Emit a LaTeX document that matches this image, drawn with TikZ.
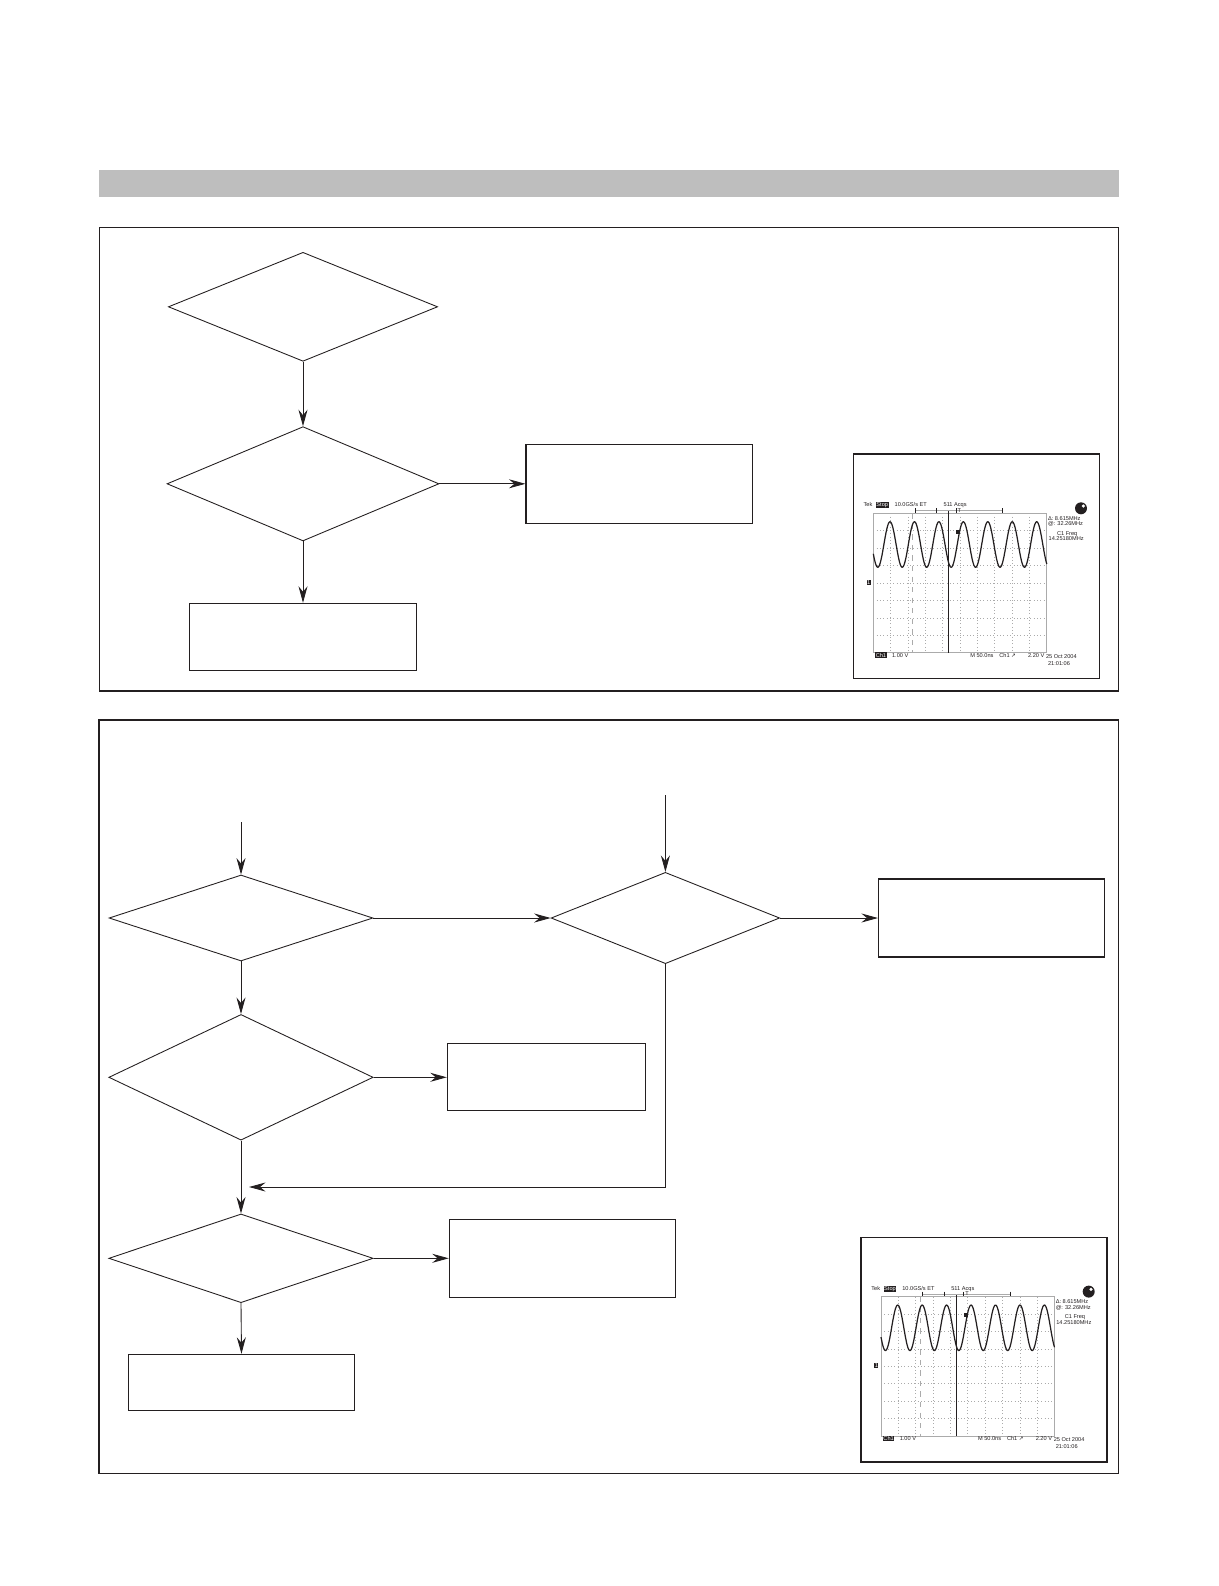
\documentclass[tikz,border=0pt]{standalone}
\usepackage{fontspec}
\newfontfamily\scopefont{Liberation Sans}
\newfontfamily\scopesym{DejaVu Sans}
\usetikzlibrary{shapes.geometric,arrows.meta}
\definecolor{fcink}{HTML}{231F20}
\definecolor{fcbar}{HTML}{BEBEBE}
\definecolor{fcgrid}{HTML}{ABABAB}

\tikzset{
  panel/.style={draw=fcink, line width=0.65pt},
  test/.style={diamond, draw=fcink, line width=0.5pt, inner sep=0pt},
  result/.style={rectangle, draw=fcink, line width=0.6pt, minimum width=4.53cm, inner sep=0pt},
  flow/.style={draw=fcink, line width=0.5pt, -{Stealth[length=3.3mm,width=1.8mm,inset=1.1mm]}},
  scopetext/.style={inner sep=0pt, anchor=base west, text=fcink,
    font=\scopefont\fontsize{3.2}{3.6}\selectfont},
  inverse/.style={scopetext, fill=fcink, text=white, inner sep=0.25pt},
}

% one oscilloscope screen, top left corner at (#1,#2), node names start with #3
\newcommand{\scopeshot}[3]{%
  \begin{scope}[shift={(#1,#2)}]
    \draw[fcink, line width=0.65pt] (0,0) rectangle (246,224.7);
    % graticule
    \foreach \i in {1,...,9}
      \draw[fcgrid, line width=0.3pt, dash pattern=on 0.3pt off 1.6pt] ({20+17.35*\i},59.3) -- ++(0,139.4);
    \foreach \j in {1,...,7}
      \draw[fcgrid, line width=0.3pt, dash pattern=on 0.3pt off 1.6pt] (20,{59.3+17.42*\j}) -- ++(173.5,0);
    \draw[fcgrid, line width=0.4pt] (20,59.3) rectangle (193.5,198.7);
    % cursors and trigger bar
    \draw[fcgrid, line width=0.4pt, dashed] (59,59.3) -- (59,198.7);
    \draw[fcink, line width=0.4pt] (95,56.7) -- (95,198.7);
    \draw[fcgrid, line width=0.5pt] (61.7,56.7) -- (149,56.7);
    \foreach \t in {61.7,83.4,102.7,149}
      \draw[fcink, line width=0.4pt] (\t,54.2) -- (\t,59);
    % trace
    \draw[fcink, line width=0.7pt, line join=round]
      plot[domain=20:193.5, samples=220] (\x,{90.5-22.8*cos(14.724*(\x-36.7))});
    \fill[fcink] (103,75.7) rectangle (107,79.7);
    \fill[fcink] (227.7,54.3) circle (0.12cm);
    \fill[white] (230,52) circle (0.035cm);
    % readouts
    \node[scopetext] (#3-tek) at (10,52.7) {Tek};
    \node[inverse] (#3-stop) at (22.4,52.7) {Stop};
    \node[scopetext] (#3-rate) at (41,52.7) {10.0GS/s ET};
    \node[scopetext] (#3-acq) at (90,52.7) {511 Acqs};
    \node[scopetext] (#3-trig) at (104,58.2) {T};
    \node[scopetext] (#3-delta) at (194.4,66) {Δ: 8.615MHz};
    \node[scopetext] (#3-abs) at (194.4,71.7) {@: 32.26MHz};
    \node[scopetext] (#3-meas) at (203.4,81) {C1 Freq};
    \node[scopetext] (#3-freq) at (195,86.7) {14.25180MHz};
    \node[inverse] (#3-gnd) at (13,130.3) {1};
    \node[inverse] (#3-ch) at (21.7,203) {Ch1};
    \node[scopetext] (#3-volt) at (38.4,203) {1.00 V};
    \node[scopetext] (#3-time) at (116.7,203) {M 50.0ns};
    \node[scopetext] (#3-src) at (145.7,203) {Ch1 {\scopesym ↗}};
    \node[scopetext] (#3-lvl) at (174.4,203) {2.20 V};
    \node[scopetext] (#3-date) at (192.4,204) {25 Oct 2004};
    \node[scopetext] (#3-clock) at (194.4,211) {21:01:06};
  \end{scope}}

\begin{document}
\begin{tikzpicture}[x=0.02cm, y=-0.02cm]
  \useasboundingbox (0,0) rectangle (1218,1586);

  % --- title bar
  \fill[fcbar] (99,170) rectangle (1119,197.3);

  % --- upper panel
  \draw[panel] (99.3,227.3) rectangle (1118.3,691);
  \node[test, minimum width=5.386cm, minimum height=2.18cm] (askA) at (303,306.8) {};
  \node[test, minimum width=5.44cm, minimum height=2.286cm] (askB) at (303,483.8) {};
  \node[result, minimum height=1.58cm] (fixA) at (639.2,483.8) {};
  \node[result, minimum height=1.34cm] (endA) at (303,636.8) {};
  \draw[flow] (askA.south) -- (askB.north);
  \draw[flow] (askB.east) -- (fixA.west);
  \draw[flow] (askB.south) -- (endA.north);
  \scopeshot{853.3}{454}{scA}

  % --- lower panel
  \draw[panel] (99,720) rectangle (1118.3,1473.3);
  \coordinate (inC) at (241,822);
  \coordinate (inD) at (665.4,795);
  \node[test, minimum width=5.278cm, minimum height=1.72cm] (askC) at (241,918) {};
  \node[test, minimum width=4.572cm, minimum height=1.826cm] (askD) at (665.4,918) {};
  \node[result, minimum height=1.56cm] (fixB) at (991.7,918) {};
  \node[test, minimum width=5.288cm, minimum height=2.514cm] (askE) at (241,1077.3) {};
  \node[result, minimum width=3.968cm, minimum height=1.346cm] (fixC) at (546.5,1077.3) {};
  \node[test, minimum width=5.288cm, minimum height=1.774cm] (askF) at (241,1258.3) {};
  \node[result, minimum height=1.56cm] (fixD) at (562.5,1258.3) {};
  \node[result, minimum height=1.12cm] (endB) at (241.5,1382.3) {};
  \coordinate (merge) at (241,1187);

  \draw[flow] (inC) -- (askC.north);
  \draw[flow] (inD) -- (askD.north);
  \draw[flow] (askC.east) -- (askD.west);
  \draw[flow] (askD.east) -- (fixB.west);
  \draw[flow] (askC.south) -- (askE.north);
  \draw[flow] (askE.east) -- (fixC.west);
  \draw[flow, shorten >=0.16cm] (askD.south) |- (merge);
  \draw[flow] (askE.south) -- (askF.north);
  \draw[flow] (askF.east) -- (fixD.west);
  \draw[flow] (askF.south) -- (endB.north);
  \scopeshot{861}{1237.3}{scB}
\end{tikzpicture}
\end{document}
